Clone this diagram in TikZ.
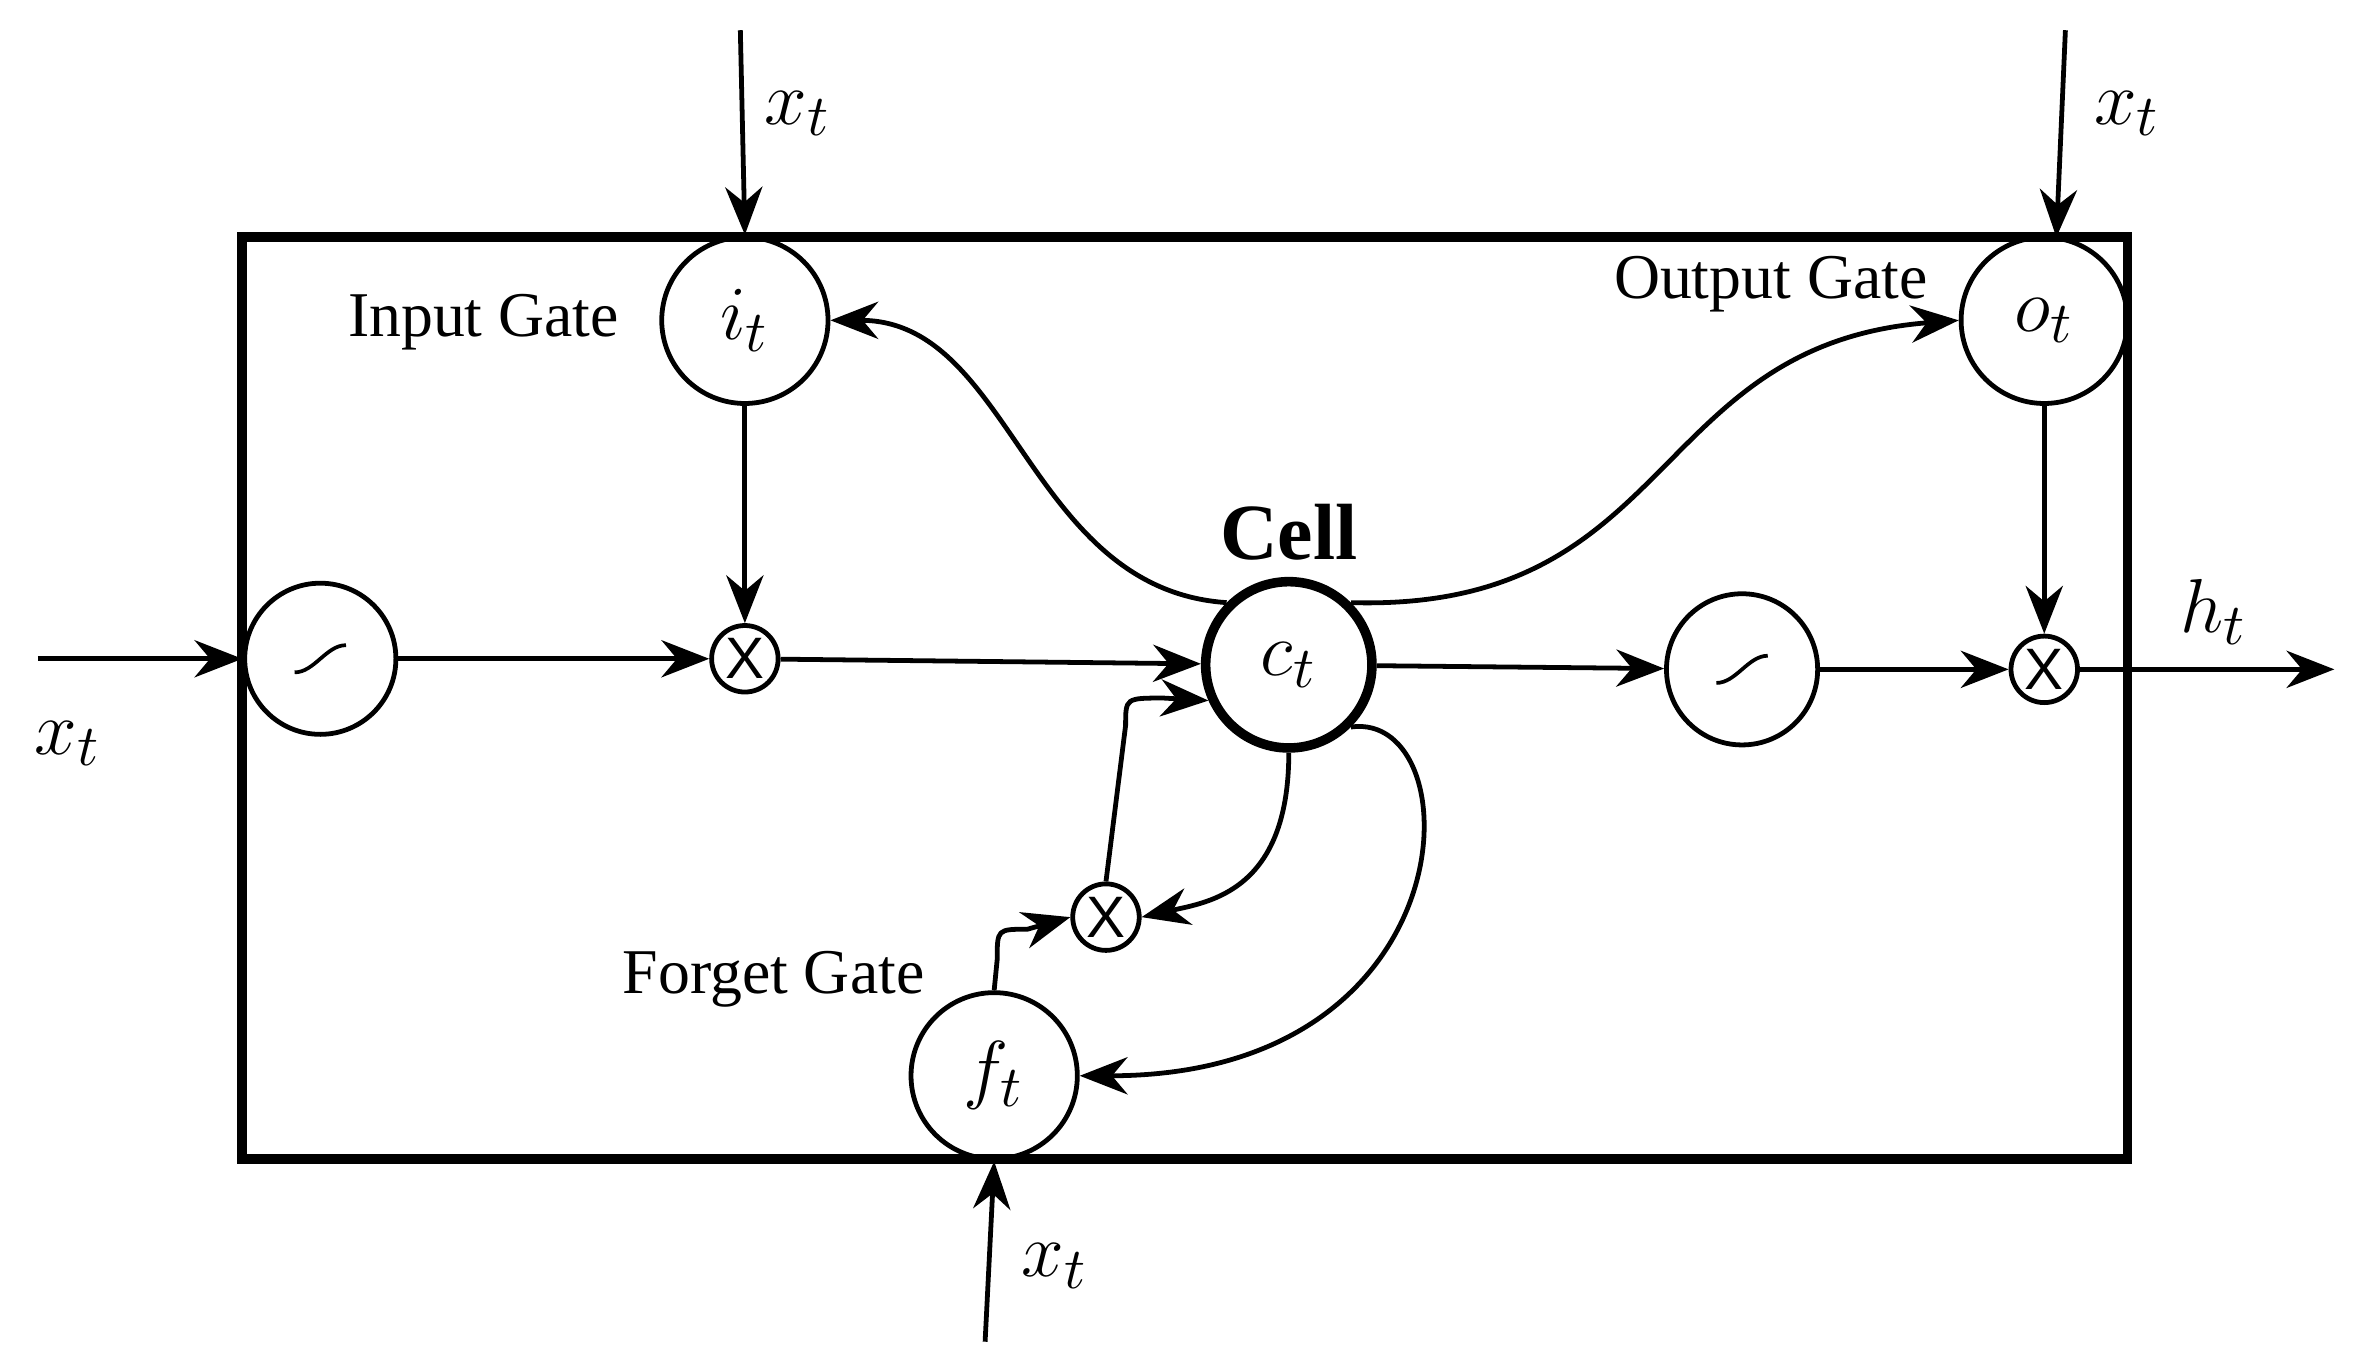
\documentclass[tikz,border=0pt]{standalone}
\usepackage{fontspec}
\setmainfont{Liberation Serif}
\newfontfamily\sansx{Liberation Sans}
\usetikzlibrary{arrows.meta}
\begin{document}
\begin{tikzpicture}[x=0.01cm,y=-0.01cm,>={Stealth[length=9pt,width=7pt]},line width=0.9pt]
\tikzstyle{gate}=[circle, draw, minimum size=1.1cm, inner sep=0pt, font=\fontsize{15}{15}\selectfont]
\tikzstyle{squash}=[circle, draw, minimum size=1cm, inner sep=0pt]
\tikzstyle{mult}=[circle, draw, minimum size=0.44cm, inner sep=0pt, font=\sansx\fontsize{11}{11}\selectfont]
\tikzstyle{lbl}=[font=\fontsize{12}{12}\selectfont]
\tikzstyle{xin}=[font=\fontsize{15}{15}\selectfont]
\useasboundingbox (0,0) rectangle (1560,906.8);

\draw[line width=1.8pt] (160,157) rectangle (1408,767);

% gates
\node[gate] (i) at (493,212) {$i_t$};
\node[gate] (o) at (1353,212) {$o_t$};
\node[gate] (f) at (658,712) {$f_t$};
\node[gate, line width=1.8pt] (c) at (853,440) {$c_t$};
\node[squash] (s1) at (212,436) {};
\node[squash] (s2) at (1153,443) {};
\foreach \n in {s1,s2}
    \draw[line width=0.7pt] ([shift={(-17,9)}]\n.center) .. controls ([shift={(-4,9)}]\n.center) and ([shift={(4,-9)}]\n.center) .. ([shift={(17,-9)}]\n.center);
\node[mult] (m1) at (493,436) {X};
\node[mult] (m2) at (1353,443) {X};
\node[mult] (m3) at (732,607) {X};

% labels
\node[lbl] (li) at (320,213) {Input Gate};
\node[lbl] (lo) at (1172,188) {Output Gate};
\node[lbl] (lf) at (512,648) {Forget Gate};
\node[font=\bfseries\fontsize{15}{15}\selectfont] (lc) at (853,352) {Cell};

% inputs
\coordinate (xi) at (490,20);
\coordinate (xo) at (1367,20);
\coordinate (xf) at (652,888);
\coordinate (xl) at (25,436);
\coordinate (ho) at (1545,443);
\node[xin] (txi) at (528,75) {$x_t$};
\node[xin] (txo) at (1408,75) {$x_t$};
\node[xin] (txf) at (698,838) {$x_t$};
\node[xin] (txl) at (45,492) {$x_t$};
\node[xin] (tho) at (1465,405) {$h_t$};

\draw[->] (xi) -- (i.north);
\draw[->] (xo) -- (1361,157);
\draw[->] (xf) -- (f.south);
\draw[->] (xl) -- (s1.west);
\draw[->] (m2) -- (ho);

\draw[->] (i) -- (m1);
\draw[->] (s1) -- (m1);
\draw[->] (m1) -- (c);
\draw[->] (c) -- (s2);
\draw[->] (s2) -- (m2);
\draw[->] (o) -- (m2);

\draw[->] (c.north west) .. controls (680,390) and (670,212) .. (i.east);
\draw[->] (c.north east) .. controls (1110,405) and (1090,228) .. (o.west);
\draw[->] (c.south) .. controls (853,590) and (800,597) .. (m3.east);
\draw[->] (m3.north) -- (745,480) .. controls (745,462) .. (770,462) -- (c.204);
\draw[->] (f.north) -- (660,635) .. controls (660,615) .. (680,615) -- (m3.west);
\draw[->] (c.south east) .. controls (975,470) and (975,712) .. (f.east);
\end{tikzpicture}
\end{document}
